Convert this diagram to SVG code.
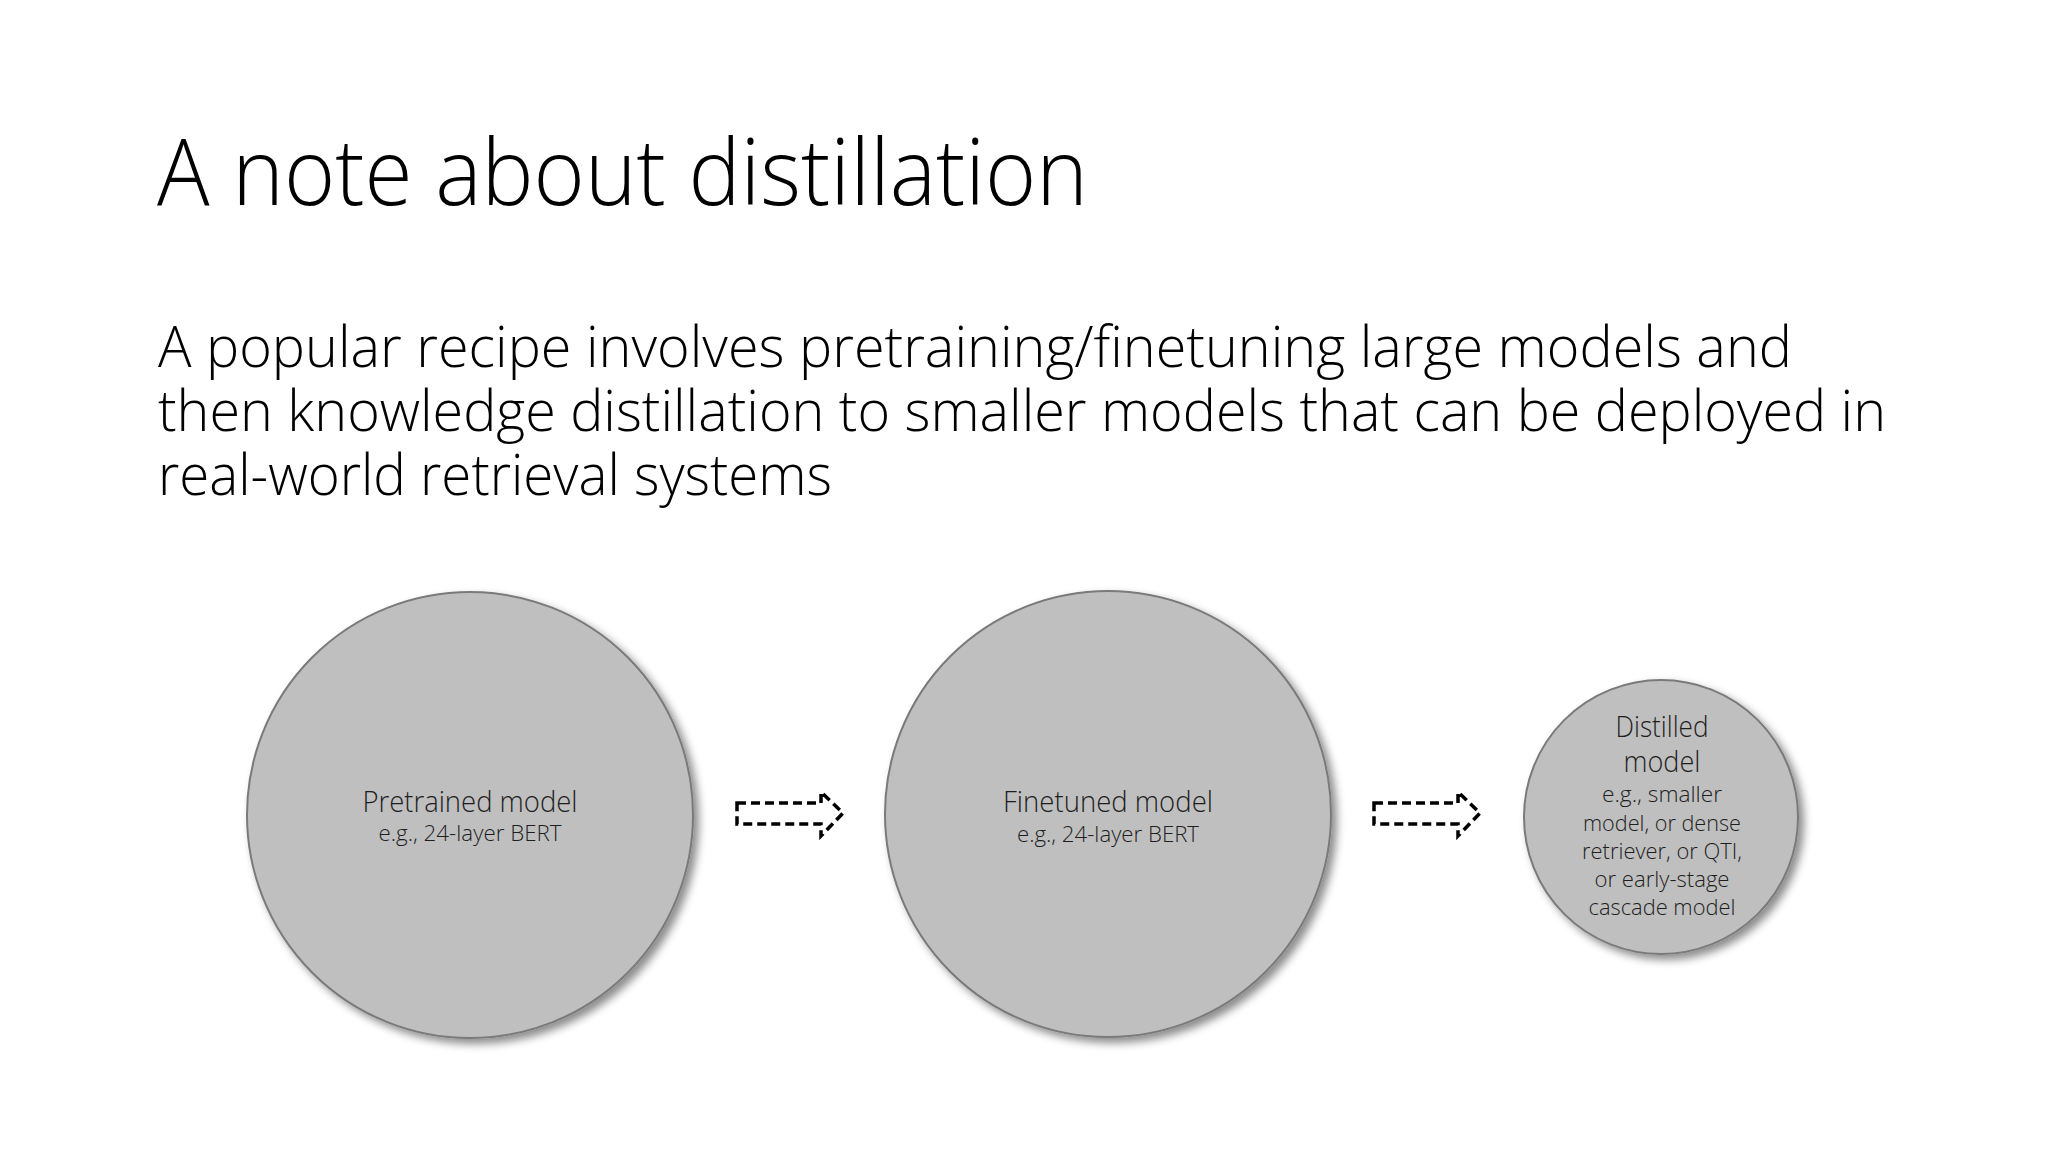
<svg xmlns="http://www.w3.org/2000/svg" width="2048" height="1152" viewBox="0 0 2048 1152">
<style>
.title{font-family:"Open Sans","Liberation Sans",sans-serif;font-weight:300;font-size:92px;fill:#000}
.para{font-family:"Open Sans","Liberation Sans",sans-serif;font-weight:300;font-size:57px;fill:#000}
.node circle{fill:#bfbfbf;stroke:#7a7a7a;stroke-width:2;filter:url(#sh)}
.lbl{font-family:"Open Sans","Liberation Sans",sans-serif;font-weight:300;font-size:29px;fill:#1e1e1e;text-anchor:middle}
.sub{font-family:"Open Sans","Liberation Sans",sans-serif;font-weight:300;font-size:22px;fill:#1e1e1e;text-anchor:middle}
.arrow{fill:none;stroke:#000;stroke-width:3.5;stroke-dasharray:9 5}
</style>
<defs>
<filter id="sh" x="-20%" y="-20%" width="150%" height="150%">
<feDropShadow dx="5" dy="5" stdDeviation="4" flood-color="#000" flood-opacity="0.45"/>
</filter>
</defs>
<rect width="2048" height="1152" fill="#fff"/>
<text class="title" x="157" y="205" textLength="931" lengthAdjust="spacingAndGlyphs">A note about distillation</text>
<text class="para" x="158" y="367" textLength="1634" lengthAdjust="spacingAndGlyphs">A popular recipe involves pretraining/finetuning large models and</text>
<text class="para" x="158" y="431" textLength="1728" lengthAdjust="spacingAndGlyphs">then knowledge distillation to smaller models that can be deployed in</text>
<text class="para" x="158" y="495" textLength="674" lengthAdjust="spacingAndGlyphs">real-world retrieval systems</text>
<g id="pretrained" class="node">
<circle cx="470" cy="815" r="223"/>
<text class="lbl" x="470" y="812" textLength="215" lengthAdjust="spacingAndGlyphs">Pretrained model</text>
<text class="sub" x="470" y="841" textLength="183" lengthAdjust="spacingAndGlyphs">e.g., 24-layer BERT</text>
</g>
<g id="finetuned" class="node">
<circle cx="1108" cy="814" r="223"/>
<text class="lbl" x="1108" y="812" textLength="210" lengthAdjust="spacingAndGlyphs">Finetuned model</text>
<text class="sub" x="1108" y="842" textLength="182" lengthAdjust="spacingAndGlyphs">e.g., 24-layer BERT</text>
</g>
<g id="distilled" class="node">
<circle cx="1661" cy="817" r="137"/>
<text class="lbl" x="1662" y="737" textLength="93" lengthAdjust="spacingAndGlyphs">Distilled</text>
<text class="lbl" x="1662" y="772" textLength="77" lengthAdjust="spacingAndGlyphs">model</text>
<text class="sub" x="1662" y="802" textLength="120" lengthAdjust="spacingAndGlyphs">e.g., smaller</text>
<text class="sub" x="1662" y="831" textLength="158" lengthAdjust="spacingAndGlyphs">model, or dense</text>
<text class="sub" x="1662" y="859" textLength="160" lengthAdjust="spacingAndGlyphs">retriever, or QTI,</text>
<text class="sub" x="1662" y="887" textLength="135" lengthAdjust="spacingAndGlyphs">or early-stage</text>
<text class="sub" x="1662" y="915" textLength="147" lengthAdjust="spacingAndGlyphs">cascade model</text>
</g>
<g id="connectors">
<path class="arrow" d="M737,803 L821,803 L821,792 L843,813 L821,836 L821,824 L737,824 Z"/>
<path class="arrow" d="M1374,803 L1458,803 L1458,792 L1480,813 L1458,836 L1458,824 L1374,824 Z"/>
</g>
</svg>
